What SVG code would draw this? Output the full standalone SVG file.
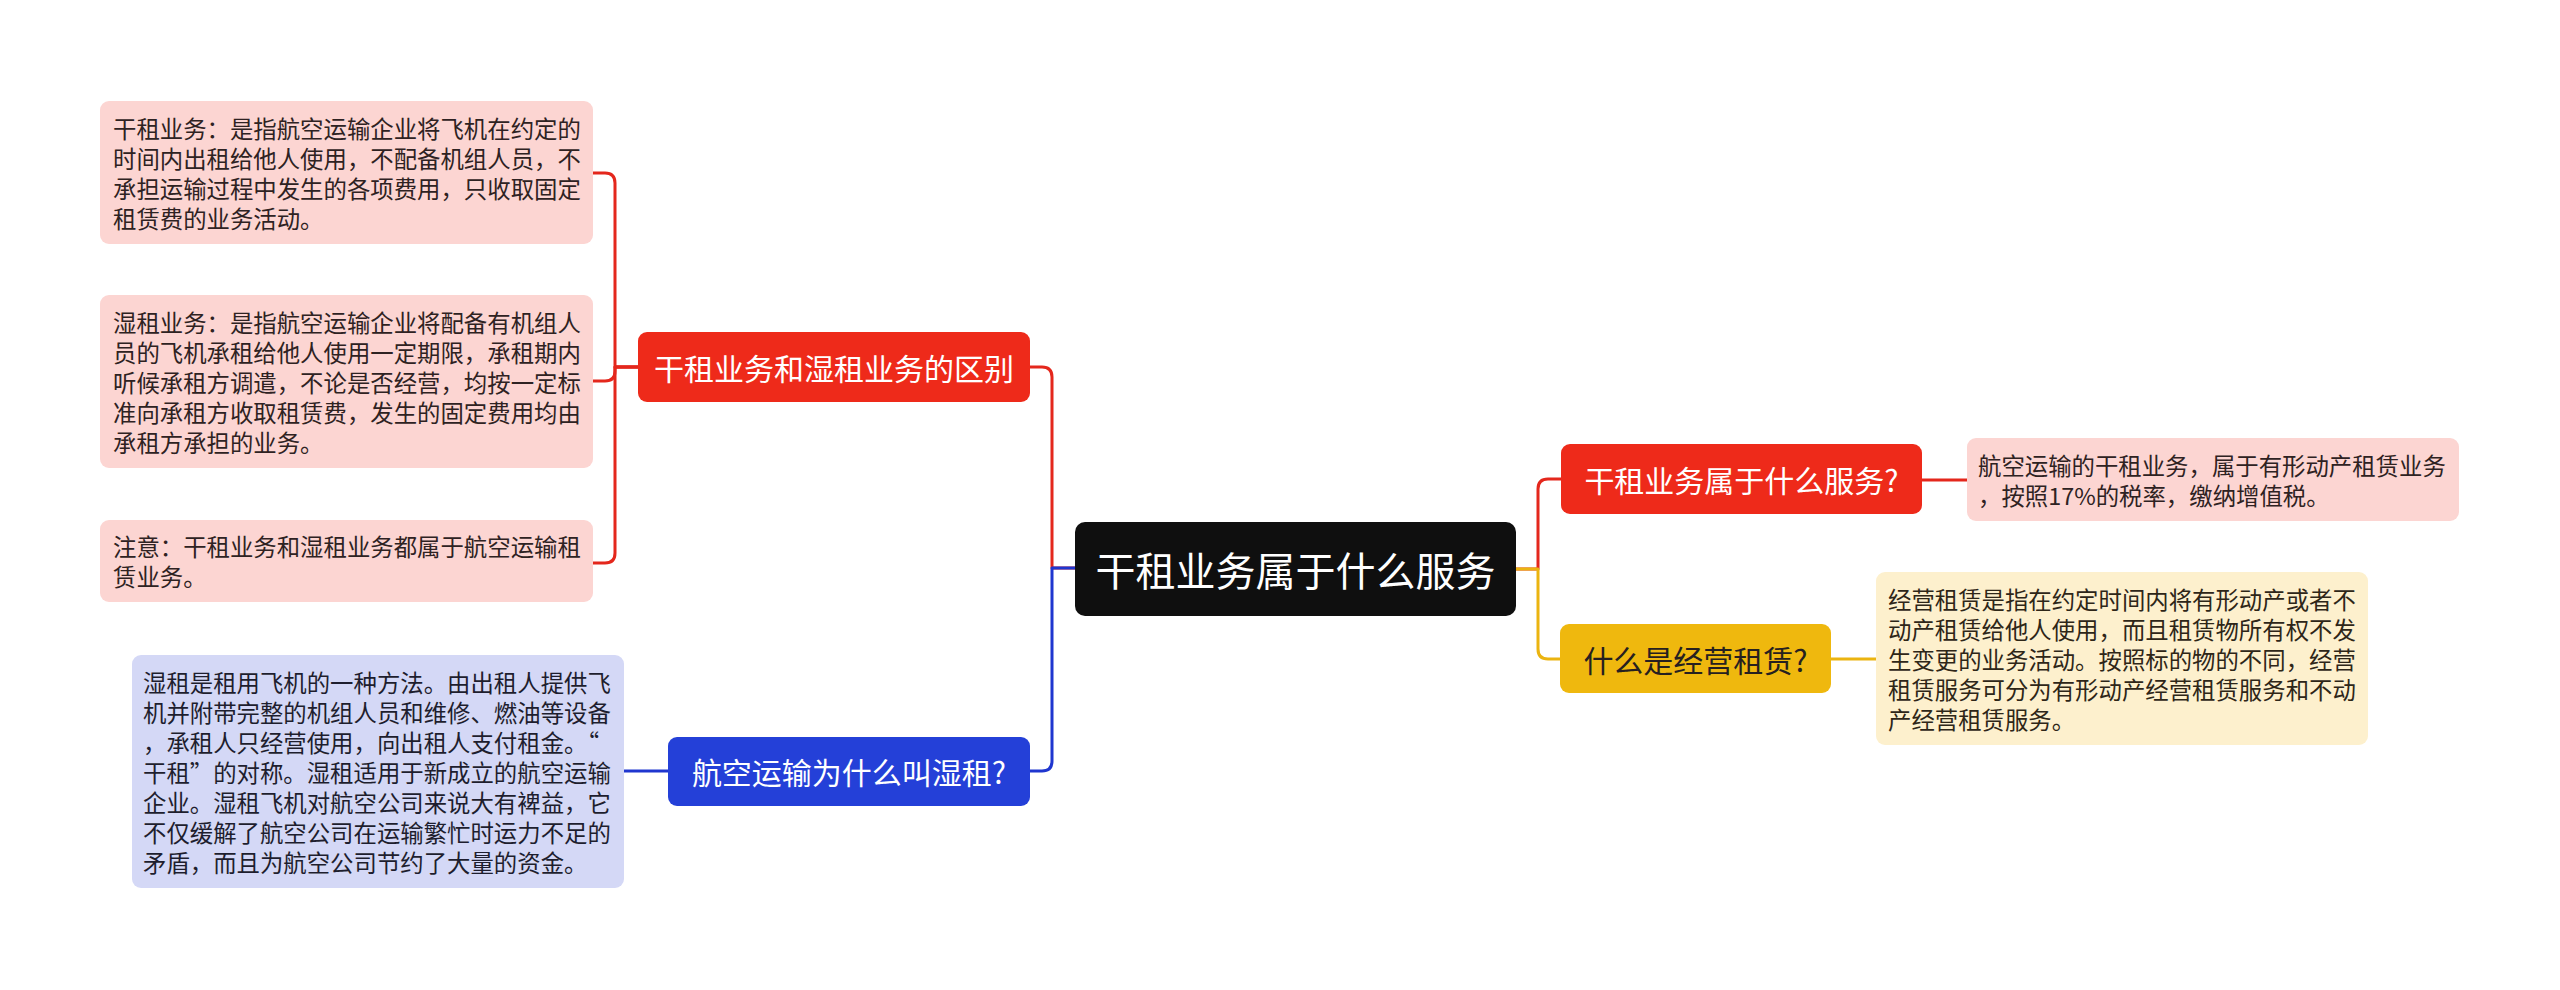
<svg xmlns="http://www.w3.org/2000/svg" width="2560" height="990" viewBox="0 0 2560 990">
<style>
text{font-family:"Noto Sans CJK SC","Noto Sans",sans-serif;dominant-baseline:central}
.leaf{font-size:23.4px;fill:#2e2222}
.br{font-size:30px;fill:#fff;text-anchor:middle}
.c{fill:none;stroke-width:3;stroke-linecap:round;stroke-linejoin:round}
.r{stroke:#E4271C}.b{stroke:#1F36CF}.y{stroke:#EBB410}
</style>
<rect width="2560" height="990" fill="#fff"/>
<g id="connectors">
<path class="c r" d="M1075 568 H1052 V377 Q1052 367 1042 367 H1030"/>
<path class="c b" d="M1075 568 H1052 V761 Q1052 771 1042 771 H1030"/>
<path class="c r" d="M1516 569 H1538 V489 Q1538 479 1548 479 H1561"/>
<path class="c y" d="M1516 569 H1538 V649 Q1538 659 1548 659 H1560"/>
<path class="c r" d="M638 367 H615 V183 Q615 173 605 173 H593"/>
<path class="c r" d="M638 367 H615 V371 Q615 381 605 381 H593"/>
<path class="c r" d="M638 367 H615 V553 Q615 563 605 563 H593"/>
<path class="c b" d="M668 771 H624"/>
<path class="c r" d="M1922 480 H1967"/>
<path class="c y" d="M1831 659 H1876"/>
</g>
<g id="root">
<rect x="1075" y="522" width="441" height="94" rx="10" fill="#0F0F0F"/>
<text x="1295.5" y="569" class="br" style="font-size:40px">干租业务属于什么服务</text>
</g>
<g id="b1">
<rect x="638" y="332" width="392" height="70" rx="9" fill="#EE2A1A"/>
<text x="834" y="367" class="br">干租业务和湿租业务的区别</text>
</g>
<g id="b2">
<rect x="668" y="737" width="362" height="69" rx="9" fill="#2440D8"/>
<text x="849" y="771" class="br">航空运输为什么叫湿租?</text>
</g>
<g id="b3">
<rect x="1561" y="444" width="361" height="70" rx="9" fill="#EE2A1A"/>
<text x="1741.5" y="479" class="br">干租业务属于什么服务?</text>
</g>
<g id="b4">
<rect x="1560" y="624" width="271" height="69" rx="9" fill="#EFB80E"/>
<text x="1695.5" y="659" class="br" style="fill:#262020">什么是经营租赁?</text>
</g>
<g id="l1">
<rect x="100" y="101" width="493" height="143" rx="9" fill="#FCD5D2"/>
<text class="leaf" x="113" y="127.5">干租业务：是指航空运输企业将飞机在约定的</text>
<text class="leaf" x="113" y="157.5">时间内出租给他人使用，不配备机组人员，不</text>
<text class="leaf" x="113" y="187.5">承担运输过程中发生的各项费用，只收取固定</text>
<text class="leaf" x="113" y="217.5">租赁费的业务活动。</text>
</g>
<g id="l2">
<rect x="100" y="295" width="493" height="173" rx="9" fill="#FCD5D2"/>
<text class="leaf" x="113" y="321.5">湿租业务：是指航空运输企业将配备有机组人</text>
<text class="leaf" x="113" y="351.5">员的飞机承租给他人使用一定期限，承租期内</text>
<text class="leaf" x="113" y="381.5">听候承租方调遣，不论是否经营，均按一定标</text>
<text class="leaf" x="113" y="411.5">准向承租方收取租赁费，发生的固定费用均由</text>
<text class="leaf" x="113" y="441.5">承租方承担的业务。</text>
</g>
<g id="l3">
<rect x="100" y="520" width="493" height="82" rx="9" fill="#FCD5D2"/>
<text class="leaf" x="113" y="546">注意：干租业务和湿租业务都属于航空运输租</text>
<text class="leaf" x="113" y="576">赁业务。</text>
</g>
<g id="l4">
<rect x="132" y="655" width="492" height="233" rx="9" fill="#D4D8F6"/>
<text class="leaf" x="143" y="681.5" style="fill:#1e1e2e">湿租是租用飞机的一种方法。由出租人提供飞</text>
<text class="leaf" x="143" y="711.5" style="fill:#1e1e2e">机并附带完整的机组人员和维修、燃油等设备</text>
<text class="leaf" x="143" y="741.5" style="fill:#1e1e2e">，承租人只经营使用，向出租人支付租金。“</text>
<text class="leaf" x="143" y="771.5" style="fill:#1e1e2e">干租”的对称。湿租适用于新成立的航空运输</text>
<text class="leaf" x="143" y="801.5" style="fill:#1e1e2e">企业。湿租飞机对航空公司来说大有裨益，它</text>
<text class="leaf" x="143" y="831.5" style="fill:#1e1e2e">不仅缓解了航空公司在运输繁忙时运力不足的</text>
<text class="leaf" x="143" y="861.5" style="fill:#1e1e2e">矛盾，而且为航空公司节约了大量的资金。</text>
</g>
<g id="l5">
<rect x="1967" y="438" width="492" height="83" rx="9" fill="#FCD5D2"/>
<text class="leaf" x="1978" y="464.5">航空运输的干租业务，属于有形动产租赁业务</text>
<text class="leaf" x="1978" y="494.5">，按照17%的税率，缴纳增值税。</text>
</g>
<g id="l6">
<rect x="1876" y="572" width="492" height="173" rx="9" fill="#FDF0CD"/>
<text class="leaf" x="1888" y="598.5" style="fill:#2e2618">经营租赁是指在约定时间内将有形动产或者不</text>
<text class="leaf" x="1888" y="628.5" style="fill:#2e2618">动产租赁给他人使用，而且租赁物所有权不发</text>
<text class="leaf" x="1888" y="658.5" style="fill:#2e2618">生变更的业务活动。按照标的物的不同，经营</text>
<text class="leaf" x="1888" y="688.5" style="fill:#2e2618">租赁服务可分为有形动产经营租赁服务和不动</text>
<text class="leaf" x="1888" y="718.5" style="fill:#2e2618">产经营租赁服务。</text>
</g>
</svg>
